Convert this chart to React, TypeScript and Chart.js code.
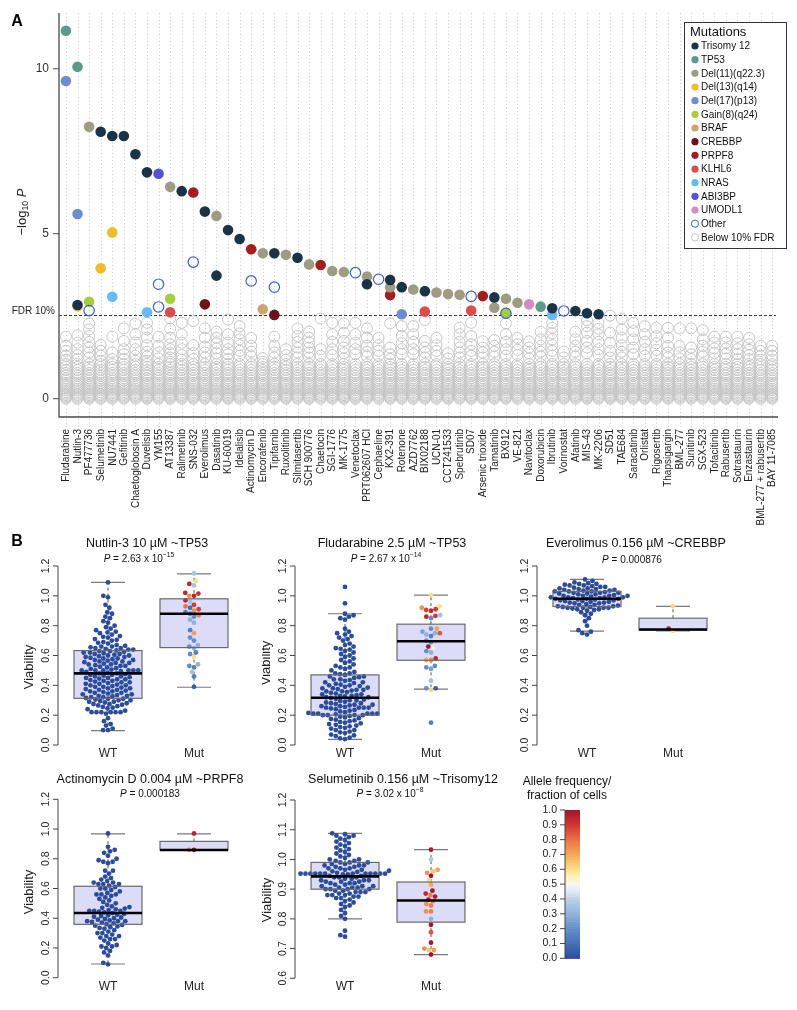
import React, { useEffect, useRef } from "react";
import { Chart, registerables } from "chart.js";
Chart.register(...registerables);

const FONT = '"Liberation Sans", Arial, Helvetica, sans-serif';

// ================= Panel A data =================
const DRUGS = [
  "Fludarabine", "Nutlin-3", "PF477736", "Selumetinib", "NU7441", "Gefitinib", "Chaetoglobosin A",
  "Duvelisib", "YM155", "AT13387", "Ralimetinib", "SNS-032", "Everolimus", "Dasatinib", "KU-60019",
  "Idelalisib", "Actinomycin D", "Encorafenib", "Tipifarnib", "Ruxolitinib", "Silmitasertib",
  "SCH 900776", "Chaetocin", "SGI-1776", "MK-1775", "Venetoclax", "PRT062607 HCl", "Cephaeline",
  "KX2-391", "Rotenone", "AZD7762", "BIX02188", "UCN-01", "CCT241533", "Spebrutinib", "SD07",
  "Arsenic trioxide", "Tamatinib", "BX912", "VE-821", "Navitoclax", "Doxorubicin", "Ibrutinib",
  "Vorinostat", "Afatinib", "MIS-43", "MK-2206", "SD51", "TAE684", "Saracatinib", "Orlistat",
  "Rigosertib", "Thapsigargin", "BML-277", "Sunitinib", "SGX-523", "Tofacitinib", "Rabusertib",
  "Sotrastaurin", "Enzastaurin", "BML-277 + rabusertib", "BAY 11-7085",
];
const Y_TICKS_A = [0, 5, 10];
const FDR_LEVEL = 2.54;

// below-FDR associations (grey rings): shared dense low band + per-drug upper values
const GRAY_BASE = [0.0, 0.03, 0.07, 0.11, 0.15, 0.2, 0.25, 0.3, 0.36, 0.42, 0.48, 0.55, 0.62, 0.7, 0.78, 0.87, 0.96, 1.05];
const GRAY_UPPER = [
  [1.88, 1.6, 1.45, 1.3, 1.18], [1.92, 1.7, 1.5, 1.32, 1.2], [2.28, 2.1, 1.9, 1.72, 1.55, 1.4, 1.25],
  [1.63, 1.45, 1.3, 1.15], [1.88, 1.4, 1.2], [2.13, 1.75, 1.5, 1.35, 1.2], [2.28, 1.95, 1.7, 1.5, 1.3, 1.15],
  [2.3, 2.1, 1.85, 1.62, 1.42, 1.28, 1.15], [1.88, 1.6, 1.4, 1.22], [2.43, 2.12, 1.85, 1.65, 1.5, 1.38, 1.25, 1.12],
  [2.3, 1.95, 1.7, 1.5, 1.32, 1.18], [2.35, 1.62, 1.38, 1.2], [2.13, 1.85, 1.58, 1.4, 1.25],
  [2.03, 1.85, 1.68, 1.52, 1.38, 1.22], [2.4, 1.95, 1.7, 1.5, 1.35, 1.2], [2.2, 1.98, 1.8, 1.62, 1.45, 1.3],
  [1.84, 1.6, 1.42, 1.28], [1.23, 1.12], [1.88, 1.6, 1.4, 1.25], [1.5, 1.32, 1.18],
  [2.13, 1.9, 1.72, 1.55, 1.4, 1.25], [2.03, 1.85, 1.7, 1.55, 1.4, 1.25], [2.43, 1.5, 1.3],
  [2.3, 1.95, 1.72, 1.5, 1.32], [2.28, 2.0, 1.75, 1.55, 1.38, 1.22], [2.3, 1.95, 1.7, 1.5, 1.35],
  [2.13, 1.85, 1.6, 1.42, 1.28], [1.84, 1.62, 1.45, 1.3], [2.28, 1.55, 1.35, 1.2], [2.2, 1.9, 1.68, 1.5, 1.35],
  [2.2, 1.95, 1.72, 1.5, 1.35], [2.38, 1.75, 1.55, 1.4, 1.25], [1.84, 1.62, 1.45, 1.3], [1.38, 1.22],
  [2.15, 1.95, 1.72, 1.55, 1.4, 1.25], [2.3, 1.9, 1.65, 1.45, 1.3], [1.74, 1.55, 1.4, 1.25],
  [1.78, 1.6, 1.42, 1.28], [2.28, 1.95, 1.72, 1.5, 1.3], [1.84, 1.65, 1.48, 1.32], [1.74, 1.55, 1.38, 1.22],
  [2.03, 1.8, 1.6, 1.42, 1.28], [2.3, 2.15, 1.98, 1.8, 1.62, 1.45, 1.3], [1.43, 1.25],
  [2.03, 1.8, 1.6, 1.42, 1.28], [2.38, 2.2, 2.0, 1.75, 1.55, 1.38], [2.3, 2.12, 1.95, 1.72, 1.5, 1.32],
  [2.52, 2.0, 1.7, 1.45, 1.25], [2.43, 2.1, 1.85, 1.62, 1.42, 1.25], [2.3, 2.05, 1.8, 1.55, 1.35],
  [2.2, 1.95, 1.72, 1.5, 1.3], [2.15, 1.9, 1.68, 1.48, 1.3], [2.15, 1.85, 1.6, 1.4, 1.25],
  [2.13, 1.6, 1.4, 1.22], [2.13, 1.55, 1.35, 1.2], [2.08, 1.8, 1.6, 1.42, 1.28], [1.88, 1.7, 1.52, 1.38, 1.22],
  [1.88, 1.7, 1.52, 1.36, 1.22], [1.88, 1.68, 1.5, 1.35, 1.2], [1.84, 1.65, 1.48, 1.32, 1.2],
  [1.6, 1.45, 1.3, 1.18], [1.6, 1.45, 1.3, 1.18],
];

// significant associations: [drug, -log10 P]
const SIG_TRISOMY12 = [
  ["Nutlin-3", 2.84], ["Selumetinib", 8.09], ["NU7441", 7.96], ["Gefitinib", 7.96], ["Chaetoglobosin A", 7.41],
  ["Duvelisib", 6.86], ["Ralimetinib", 6.29], ["Everolimus", 5.67], ["Dasatinib", 3.73], ["KU-60019", 5.11],
  ["Idelalisib", 4.84], ["Tipifarnib", 4.41], ["Silmitasertib", 4.27], ["PRT062607 HCl", 3.47], ["KX2-391", 3.6],
  ["Rotenone", 3.38], ["BIX02188", 3.26], ["Tamatinib", 3.07], ["Ibrutinib", 2.74], ["Afatinib", 2.66],
  ["MIS-43", 2.59], ["MK-2206", 2.56],
];
const SIG_TP53 = [["Fludarabine", 11.15], ["Nutlin-3", 10.06], ["Doxorubicin", 2.79]];
const SIG_DEL11 = [
  ["PF477736", 8.24], ["AT13387", 6.42], ["Dasatinib", 5.54], ["Encorafenib", 4.41], ["Ruxolitinib", 4.36],
  ["SCH 900776", 4.07], ["SGI-1776", 3.87], ["MK-1775", 3.84], ["PRT062607 HCl", 3.7], ["KX2-391", 3.38],
  ["AZD7762", 3.31], ["UCN-01", 3.22], ["CCT241533", 3.17], ["Spebrutinib", 3.15], ["Tamatinib", 2.76],
  ["BX912", 3.03], ["VE-821", 2.91],
];
const SIG_DEL13 = [["Nutlin-3", 2.8], ["Selumetinib", 3.95], ["NU7441", 5.04]];
const SIG_DEL17 = [["Fludarabine", 9.63], ["Nutlin-3", 5.6], ["Rotenone", 2.56]];
const SIG_GAIN8 = [["PF477736", 2.94], ["AT13387", 3.03], ["BX912", 2.59]];
const SIG_BRAF = [["Encorafenib", 2.71]];
const SIG_CREBBP = [["Everolimus", 2.86], ["Tipifarnib", 2.54]];
const SIG_PRPF8 = [["SNS-032", 6.25], ["Actinomycin D", 4.53], ["Chaetocin", 4.05], ["KX2-391", 3.14], ["Arsenic trioxide", 3.11]];
const SIG_KLHL6 = [["AT13387", 2.62], ["BIX02188", 2.64], ["SD07", 2.67]];
const SIG_NRAS = [["NU7441", 3.09], ["Duvelisib", 2.62], ["Ibrutinib", 2.54]];
const SIG_ABI3BP = [["YM155", 6.82]];
const SIG_UMODL1 = [["Navitoclax", 2.86]];
const SIG_OTHER = [
  ["PF477736", 2.67], ["YM155", 3.47], ["YM155", 2.78], ["SNS-032", 4.14], ["Actinomycin D", 3.57],
  ["Tipifarnib", 3.38], ["Venetoclax", 3.82], ["Cephaeline", 3.62], ["SD07", 3.1], ["BX912", 2.59], ["Vorinostat", 2.66],
];

const MUT_LABELS = ["Trisomy 12", "TP53", "Del(11)(q22.3)", "Del(13)(q14)", "Del(17)(p13)", "Gain(8)(q24)", "BRAF", "CREBBP", "PRPF8", "KLHL6", "NRAS", "ABI3BP", "UMODL1"];
const MUT_COLORS = ["#1b3346", "#5b9b8c", "#9e9d84", "#f1bb2b", "#6a8fcc", "#a6cd3b", "#cfa271", "#6b1419", "#a1201f", "#de4b4b", "#68b9f6", "#5a4fd8", "#d28ec0"];
const MUT_POINTS = [SIG_TRISOMY12, SIG_TP53, SIG_DEL11, SIG_DEL13, SIG_DEL17, SIG_GAIN8, SIG_BRAF, SIG_CREBBP, SIG_PRPF8, SIG_KLHL6, SIG_NRAS, SIG_ABI3BP, SIG_UMODL1];
// bottom -> top drawing order (indices into the lists above)
const DRAW_ORDER = [6, 9, 10, 12, 11, 5, 7, 8, 3, 4, 2, 1, 0];
const OTHER_COLOR = "#3d5fd6";
const GRAY_COLOR = "#c6c6c6";

// ================= Panel B data =================
const BOX_TICKS = [0, 0.2, 0.4, 0.6, 0.8, 1.0, 1.2];
const SELU_TICKS = [0.6, 0.7, 0.8, 0.9, 1.0, 1.1, 1.2];
const GROUPS = ["WT", "Mut"];

const NUTLIN_WT = [
  0.10, 0.10, 0.11, 0.13, 0.14, 0.16, 0.18, 0.21,
  0.22, 0.22, 0.22, 0.22, 0.22, 0.22, 0.23, 0.24, 0.245, 0.25, 0.255, 0.26, 0.265, 0.27, 0.275, 0.275, 0.28, 0.285, 0.29, 0.29, 0.295, 0.30, 0.30, 0.305, 0.31, 0.31, 0.315,
  0.32, 0.32, 0.325, 0.33, 0.33, 0.335, 0.34, 0.34, 0.345, 0.35, 0.35, 0.355, 0.36, 0.36, 0.365, 0.37, 0.37, 0.375, 0.38, 0.38, 0.385, 0.39, 0.39, 0.395, 0.40, 0.40, 0.405,
  0.41, 0.41, 0.415, 0.42, 0.42, 0.425, 0.43, 0.43, 0.435, 0.44, 0.44, 0.445, 0.45, 0.45, 0.455, 0.46, 0.46, 0.465, 0.47, 0.47, 0.475, 0.48, 0.48, 0.485, 0.49, 0.495,
  0.50, 0.50, 0.50, 0.50, 0.50, 0.50, 0.505, 0.51, 0.515, 0.52,
  0.525, 0.53, 0.53, 0.535, 0.54, 0.54, 0.545, 0.55, 0.55, 0.555, 0.56, 0.56, 0.565, 0.57, 0.57, 0.575, 0.58, 0.58, 0.585, 0.59, 0.59, 0.595, 0.60, 0.60, 0.605, 0.61, 0.61, 0.615, 0.62, 0.62, 0.625, 0.63, 0.63, 0.635,
  0.64, 0.64, 0.645, 0.65, 0.65, 0.655, 0.66, 0.66, 0.665, 0.67, 0.68, 0.685, 0.69, 0.70, 0.705, 0.71, 0.72, 0.725, 0.73,
  0.74, 0.75, 0.755, 0.76, 0.77, 0.78, 0.79, 0.80, 0.82, 0.83, 0.85, 0.86, 0.88, 0.89, 0.92, 0.94, 0.99, 1.00, 1.09,
];
const NUTLIN_MUT = [1.15, 1.10, 1.08, 1.07, 1.02, 1.015, 1.0, 1.0, 0.97, 0.96, 0.95, 0.94, 0.93, 0.92, 0.91, 0.9, 0.89, 0.88, 0.87, 0.86, 0.84, 0.82, 0.77, 0.75, 0.72, 0.7, 0.67, 0.66, 0.65, 0.62, 0.61, 0.59, 0.54, 0.53, 0.52, 0.49, 0.46, 0.39];
const NUTLIN_MUT_AF = [0.35, 0.6, 0.95, 0.35, 0.95, 0.92, 0.95, 0.75, 0.95, 0.35, 0.45, 0.9, 0.8, 0.1, 0.88, 0.75, 0.15, 0.2, 0.78, 0.2, 0.3, 0.3, 0.15, 0.72, 0.2, 0.2, 0.3, 0.2, 0.3, 0.15, 0.2, 0.6, 0.3, 0.2, 0.15, 0.35, 0.15, 0.05];
const NUTLIN_WT_BOX = [0.096, 0.313, 0.48, 0.633, 1.09];
const NUTLIN_MUT_BOX = [0.387, 0.653, 0.88, 0.98, 1.147];

const FLUD_WT = [
  0.04, 0.045, 0.05, 0.06, 0.065, 0.07, 0.08, 0.085, 0.09, 0.10, 0.10,
  0.11, 0.115, 0.12, 0.125, 0.13, 0.135, 0.14, 0.145, 0.15, 0.155, 0.16, 0.165, 0.17, 0.175, 0.18, 0.185, 0.19, 0.195, 0.20, 0.20, 0.20, 0.20, 0.205,
  0.21, 0.21, 0.21, 0.21, 0.21, 0.215, 0.22, 0.225, 0.23, 0.235, 0.24, 0.245, 0.25, 0.25, 0.25, 0.25, 0.255, 0.26, 0.26, 0.265, 0.27, 0.27, 0.275, 0.28, 0.28, 0.285, 0.29, 0.295, 0.30, 0.30, 0.305, 0.31, 0.315,
  0.32, 0.32, 0.325, 0.33, 0.33, 0.335, 0.34, 0.34, 0.345, 0.35, 0.355, 0.36, 0.36, 0.365, 0.37, 0.37, 0.375, 0.38, 0.38, 0.385, 0.39, 0.395, 0.40, 0.40, 0.405, 0.41, 0.415,
  0.42, 0.42, 0.43, 0.435, 0.44, 0.44, 0.45, 0.455, 0.46, 0.46, 0.47, 0.475, 0.48, 0.48, 0.49, 0.50, 0.51, 0.52, 0.52,
  0.53, 0.54, 0.55, 0.56, 0.57, 0.58, 0.59, 0.60, 0.61, 0.62, 0.63, 0.64, 0.645, 0.65, 0.66, 0.67, 0.68, 0.70, 0.71, 0.72,
  0.73, 0.74, 0.75, 0.76, 0.78, 0.84, 0.85, 0.86, 0.87, 0.88, 0.95, 1.06,
];
const FLUD_MUT = [1.005, 0.93, 0.92, 0.91, 0.9, 0.905, 0.87, 0.865, 0.86, 0.85, 0.78, 0.78, 0.76, 0.75, 0.75, 0.74, 0.73, 0.7, 0.69, 0.66, 0.65, 0.63, 0.62, 0.58, 0.57, 0.57, 0.53, 0.52, 0.51, 0.43, 0.38, 0.38, 0.37, 0.15];
const FLUD_MUT_AF = [0.6, 0.6, 0.75, 0.9, 0.95, 0.88, 0.35, 0.9, 0.95, 0.2, 0.2, 0.72, 0.25, 0.3, 0.85, 0.3, 0.15, 0.2, 0.2, 1.0, 0.55, 0.2, 0.3, 0.95, 0.75, 0.7, 0.2, 0.2, 0.25, 0.35, 0.2, 0.05, 0.62, 0.15];
const FLUD_WT_BOX = [0.038, 0.2, 0.317, 0.47, 0.88];
const FLUD_MUT_BOX = [0.374, 0.568, 0.696, 0.81, 1.005];

const EVERO_WT = [
  0.74, 0.75, 0.76, 0.77, 0.80, 0.83, 0.85, 0.87, 0.88, 0.89,
  0.90, 0.905, 0.91, 0.91, 0.915, 0.92, 0.92, 0.92, 0.92, 0.925, 0.925, 0.93, 0.93, 0.935, 0.94, 0.94, 0.945, 0.95, 0.95, 0.955, 0.955,
  0.96, 0.96, 0.965, 0.965, 0.97, 0.97, 0.975, 0.975, 0.98, 0.98, 0.98, 0.985, 0.985, 0.99, 0.99, 0.99, 0.99, 0.995, 1.0, 1.0, 1.0, 1.0, 1.005,
  1.01, 1.01, 1.015, 1.015, 1.02, 1.02, 1.02, 1.025, 1.03, 1.03, 1.03, 1.035, 1.035, 1.04, 1.04, 1.045, 1.045, 1.05, 1.05, 1.055,
  1.06, 1.06, 1.065, 1.07, 1.07, 1.075, 1.08, 1.08, 1.085, 1.09, 1.10, 1.11,
];
const EVERO_MUT = [0.93, 0.78, 0.765];
const EVERO_MUT_AF = [0.62, 0.98, 0.6];
const EVERO_WT_BOX = [0.763, 0.928, 0.98, 1.03, 1.11];
const EVERO_MUT_BOX = [0.765, 0.77, 0.774, 0.85, 0.93];

const ACTINO_WT = [
  0.09, 0.10, 0.15, 0.17, 0.18, 0.20, 0.21, 0.21, 0.22, 0.23, 0.25, 0.26, 0.26, 0.27, 0.28, 0.28, 0.29, 0.30, 0.30, 0.31,
  0.32, 0.33, 0.335, 0.34, 0.345, 0.35, 0.355, 0.36, 0.365, 0.37, 0.375, 0.38, 0.38, 0.38, 0.385, 0.39, 0.395,
  0.40, 0.405, 0.41, 0.415, 0.42, 0.425, 0.43, 0.435, 0.44, 0.445, 0.45, 0.45, 0.45, 0.455, 0.46, 0.465, 0.47, 0.475,
  0.48, 0.49, 0.50, 0.51, 0.52, 0.53, 0.54, 0.55, 0.56, 0.56, 0.56, 0.57, 0.58, 0.59, 0.60, 0.60, 0.61, 0.62, 0.63, 0.63,
  0.63, 0.64, 0.64, 0.65, 0.66, 0.67, 0.68, 0.70, 0.72, 0.72, 0.77, 0.78, 0.78, 0.79, 0.80, 0.82, 0.84, 0.85, 0.86, 0.88, 0.97,
];
const ACTINO_MUT = [0.97, 0.86, 0.86];
const ACTINO_MUT_AF = [0.95, 1.0, 0.75];
const ACTINO_WT_BOX = [0.092, 0.359, 0.435, 0.615, 0.968];
const ACTINO_MUT_BOX = [0.859, 0.859, 0.859, 0.917, 0.968];

const SELU_WT = [
  0.74, 0.745, 0.76, 0.80, 0.81, 0.82, 0.83, 0.84, 0.845, 0.85, 0.855, 0.86,
  0.865, 0.87, 0.87, 0.875, 0.875, 0.88, 0.88, 0.88, 0.885, 0.885, 0.89, 0.89, 0.89, 0.895, 0.895, 0.9, 0.9, 0.9, 0.9, 0.905, 0.905, 0.905, 0.91, 0.91, 0.91,
  0.915, 0.915, 0.92, 0.92, 0.92, 0.925, 0.925, 0.925, 0.93, 0.93, 0.93, 0.935, 0.935, 0.94, 0.94, 0.94, 0.945, 0.945, 0.95, 0.95,
  0.952, 0.952, 0.952, 0.952, 0.952, 0.952, 0.952, 0.952, 0.952, 0.952, 0.952, 0.952,
  0.955, 0.958, 0.96, 0.962, 0.965, 0.965, 0.97, 0.97, 0.97, 0.975, 0.975, 0.98, 0.98, 0.98, 0.985, 0.985, 0.99, 0.99, 0.99, 0.995, 0.995, 1.0, 1.0, 1.005, 1.01, 1.015, 1.02, 1.025, 1.03, 1.035,
  1.04, 1.045, 1.05, 1.055, 1.06, 1.065, 1.07, 1.075, 1.08, 1.08, 1.085, 1.088,
];
const SELU_MUT = [1.033, 1.0, 0.965, 0.96, 0.955, 0.945, 0.93, 0.915, 0.895, 0.885, 0.88, 0.875, 0.865, 0.86, 0.85, 0.845, 0.825, 0.825, 0.8, 0.78, 0.755, 0.72, 0.7, 0.695, 0.695, 0.68];
const SELU_MUT_AF = [0.98, 0.38, 0.72, 0.65, 0.75, 1.0, 0.6, 0.7, 1.0, 0.95, 0.78, 0.98, 1.0, 0.78, 0.75, 0.78, 0.78, 0.75, 0.3, 1.0, 0.85, 1.0, 0.75, 0.65, 0.72, 1.0];
const SELU_WT_BOX = [0.8, 0.9, 0.943, 0.99, 1.088];
const SELU_MUT_BOX = [0.68, 0.789, 0.862, 0.924, 1.033];

// allele frequency colour scale
const CBAR_TICKS = [0, 0.1, 0.2, 0.3, 0.4, 0.5, 0.6, 0.7, 0.8, 0.9, 1.0];
const CMAP_STOPS = [0, 0.1, 0.2, 0.3, 0.4, 0.45, 0.5, 0.55, 0.6, 0.7, 0.8, 0.9, 1.0];
const CMAP_HEX = ["#2c4c9e", "#4470b4", "#628fc7", "#8fb2d9", "#bcd0e8", "#dfe7f3", "#f6f6f2", "#fbf4bf", "#fbdf8a", "#f4ab5d", "#ec7346", "#d3372d", "#a31631"];
const WT_COLOR = "#2b4b9b";

// ================= helpers =================
function hexToRgb(h: string) {
  const n = parseInt(h.slice(1), 16);
  return [(n >> 16) & 255, (n >> 8) & 255, n & 255];
}
function cmap(v: number) {
  const t = Math.max(0, Math.min(1, v));
  let k = 0;
  while (k < CMAP_STOPS.length - 2 && t > CMAP_STOPS[k + 1]) k++;
  const f = (t - CMAP_STOPS[k]) / (CMAP_STOPS[k + 1] - CMAP_STOPS[k]);
  const a = hexToRgb(CMAP_HEX[k]);
  const b = hexToRgb(CMAP_HEX[k + 1]);
  const c = a.map((x, i) => Math.round(x + (b[i] - x) * f));
  return `rgb(${c[0]},${c[1]},${c[2]})`;
}

type Seg = [string, string];
function drawRich(ctx: CanvasRenderingContext2D, segs: Seg[], cx: number, cy: number, size: number, color = "#111") {
  const fontOf = (st: string) => (st === "i" ? "italic " : "") + (st === "s" || st === "b" ? size * 0.68 : size) + "px " + FONT;
  let w = 0;
  for (const [t, st] of segs) { ctx.font = fontOf(st); w += ctx.measureText(t).width; }
  let x = cx - w / 2;
  ctx.fillStyle = color;
  ctx.textAlign = "left";
  ctx.textBaseline = "middle";
  for (const [t, st] of segs) {
    ctx.font = fontOf(st);
    const dy = st === "s" ? -size * 0.38 : st === "b" ? size * 0.3 : 0;
    ctx.fillText(t, x, cy + dy);
    x += ctx.measureText(t).width;
  }
}

function swarm(py: number[], d: number): number[] {
  const idx = py.map((_, i) => i).sort((a, b) => py[b] - py[a]);
  const placed: { x: number; y: number }[] = [];
  const out = new Array(py.length).fill(0);
  for (const i of idx) {
    const y = py[i];
    const near = placed.filter((p) => Math.abs(p.y - y) < d);
    const cands = [0];
    for (const p of near) {
      const w = Math.sqrt(d * d - (p.y - y) * (p.y - y));
      cands.push(p.x - w, p.x + w);
    }
    cands.sort((a, b) => Math.abs(a) - Math.abs(b));
    let best = 0;
    for (const c of cands) {
      if (near.every((p) => Math.abs(p.x - c) >= Math.sqrt(d * d - (p.y - y) * (p.y - y)) - 1e-6)) { best = c; break; }
    }
    placed.push({ x: best, y });
    out[i] = best;
  }
  return out;
}

const baseOptions = (padding: any, xmin: number, xmax: number, ymin: number, ymax: number) => ({
  animation: false as const,
  responsive: false,
  maintainAspectRatio: false,
  events: [] as any[],
  layout: { padding },
  scales: {
    x: { type: "linear" as const, display: false, min: xmin, max: xmax },
    y: { type: "linear" as const, display: false, min: ymin, max: ymax },
  },
  plugins: { legend: { display: false }, tooltip: { enabled: false }, title: { display: false } },
});

// ================= Panel A =================
const PA = { w: 797, h: 530, left: 59, right: 778, top: 13, bottom: 417 };

function PanelA() {
  const ref = useRef<HTMLCanvasElement>(null);
  useEffect(() => {
    const datasets: any[] = [];
    const gray: any[] = [];
    DRUGS.forEach((_, i) => {
      for (const v of GRAY_BASE) gray.push({ x: i, y: v });
      for (const v of GRAY_UPPER[i]) gray.push({ x: i, y: v });
    });
    datasets.push({ data: gray, pointRadius: 5.5, pointBackgroundColor: "rgba(0,0,0,0)", pointBorderColor: GRAY_COLOR, pointBorderWidth: 1, clip: false });
    for (const k of DRAW_ORDER) {
      datasets.push({
        data: MUT_POINTS[k].map(([d, v]: any) => ({ x: DRUGS.indexOf(d), y: v })),
        pointRadius: 5.3, pointBackgroundColor: MUT_COLORS[k], pointBorderColor: MUT_COLORS[k], pointBorderWidth: 0, clip: false,
      });
    }
    datasets.push({
      data: SIG_OTHER.map(([d, v]: any) => ({ x: DRUGS.indexOf(d), y: v })),
      pointRadius: 5.2, pointBackgroundColor: "rgba(0,0,0,0)", pointBorderColor: OTHER_COLOR, pointBorderWidth: 1.2, clip: false,
    });
    datasets.forEach((d, i) => (d.order = datasets.length - i));

    const plugin = {
      id: "panelA",
      beforeDatasetsDraw(chart: any) {
        const { ctx, scales, chartArea: a } = chart;
        const x = scales.x, y = scales.y;
        ctx.save();
        ctx.strokeStyle = "#cccccc";
        ctx.lineWidth = 1;
        ctx.setLineDash([1, 2.5]);
        DRUGS.forEach((_, i) => {
          const px = Math.round(x.getPixelForValue(i)) + 0.5;
          ctx.beginPath(); ctx.moveTo(px, a.top); ctx.lineTo(px, a.bottom + 11); ctx.stroke();
        });
        const fy = Math.round(y.getPixelForValue(FDR_LEVEL)) + 0.5;
        ctx.strokeStyle = "#3a3a3a";
        ctx.setLineDash([3, 2]);
        ctx.beginPath(); ctx.moveTo(a.left, fy); ctx.lineTo(a.right - 2, fy); ctx.stroke();
        ctx.restore();
      },
      afterDatasetsDraw(chart: any) {
        const { ctx, scales, chartArea: a } = chart;
        const x = scales.x, y = scales.y;
        ctx.save();
        ctx.strokeStyle = "#4a4a4a";
        ctx.lineWidth = 1.3;
        ctx.beginPath(); ctx.moveTo(a.left, a.top); ctx.lineTo(a.left, a.bottom); ctx.lineTo(a.right, a.bottom); ctx.stroke();
        ctx.lineWidth = 1;
        ctx.fillStyle = "#333";
        ctx.font = "12px " + FONT;
        ctx.textAlign = "right";
        ctx.textBaseline = "middle";
        for (const t of Y_TICKS_A) {
          const py = y.getPixelForValue(t);
          ctx.beginPath(); ctx.moveTo(a.left - 6, py); ctx.lineTo(a.left, py); ctx.stroke();
          ctx.fillText(String(t), a.left - 10, py);
        }
        ctx.font = "10px " + FONT;
        ctx.fillStyle = "#222";
        ctx.fillText("FDR 10%", 55, y.getPixelForValue(FDR_LEVEL) - 4);
        ctx.save();
        ctx.translate(22, 212);
        ctx.rotate(-Math.PI / 2);
        drawRich(ctx, [["\u2212log", ""], ["10", "b"], [" ", ""], ["P", "i"]], 0, 0, 13, "#222");
        ctx.restore();
        ctx.font = "10px " + FONT;
        ctx.fillStyle = "#222";
        DRUGS.forEach((d, i) => {
          ctx.save();
          ctx.translate(x.getPixelForValue(i), a.bottom + 12);
          ctx.rotate(-Math.PI / 2);
          ctx.textAlign = "right";
          ctx.textBaseline = "middle";
          ctx.fillText(d, 0, 0.5);
          ctx.restore();
        });
        ctx.font = "bold 16px " + FONT;
        ctx.fillStyle = "#000";
        ctx.textAlign = "center";
        ctx.fillText("A", 17, 22);
        const L = { x: 684.5, y: 22.5, w: 102, h: 226 };
        ctx.fillStyle = "#fff";
        ctx.fillRect(L.x, L.y, L.w, L.h);
        ctx.strokeStyle = "#333";
        ctx.lineWidth = 1;
        ctx.strokeRect(L.x, L.y, L.w, L.h);
        ctx.fillStyle = "#111";
        ctx.textAlign = "left";
        ctx.font = "13px " + FONT;
        ctx.fillText("Mutations", 690, 32.5);
        ctx.font = "10px " + FONT;
        const entries: [string, string, boolean][] = MUT_LABELS.map((l, k) => [l, MUT_COLORS[k], true] as [string, string, boolean]);
        entries.push(["Other", OTHER_COLOR, false], ["Below 10% FDR", GRAY_COLOR, false]);
        entries.forEach(([lab, col, filled], k) => {
          const ey = 46 + k * 13.67;
          ctx.beginPath();
          ctx.arc(695, ey, 3.6, 0, Math.PI * 2);
          if (filled) { ctx.fillStyle = col; ctx.fill(); } else { ctx.strokeStyle = col; ctx.lineWidth = 1; ctx.stroke(); }
          ctx.fillStyle = "#111";
          ctx.fillText(lab, 701, ey + 0.5);
        });
        ctx.restore();
      },
    };

    const chart = new Chart(ref.current as HTMLCanvasElement, {
      type: "scatter",
      data: { datasets },
      options: baseOptions(
        { left: PA.left, right: PA.w - PA.right, top: PA.top, bottom: PA.h - PA.bottom },
        -0.6, 61.5, -0.555, 11.69
      ) as any,
      plugins: [plugin],
    });
    return () => chart.destroy();
  }, []);
  return <canvas ref={ref} width={PA.w} height={PA.h} style={{ position: "absolute", left: 0, top: 0, width: PA.w, height: PA.h }} />;
}

// ================= Panel B boxes =================
type BoxProps = {
  cv: { left: number; top: number; width: number; height: number };
  axisX: number; yTopPx: number; yBotPx: number; yMin: number; yMax: number; ticks: number[];
  title: string; titleX: number; titleY: number;
  pSegs: Seg[]; pX: number; pY: number;
  viaX: number; viaY: number; labY: number;
  wt: number[]; mut: number[]; mutAf: number[]; wtBox: number[]; mutBox: number[];
  letter?: string;
};

const PX_PER_GROUP = 86;
const WT_OFFSET = 50;
const AREA_W = 200;
const BOX_HALF = 34;

function BoxPanel(p: BoxProps) {
  const ref = useRef<HTMLCanvasElement>(null);
  useEffect(() => {
    const { cv } = p;
    const xmin = 1 - WT_OFFSET / PX_PER_GROUP;
    const xmax = xmin + AREA_W / PX_PER_GROUP;
    const padding = {
      left: p.axisX - cv.left,
      right: cv.left + cv.width - (p.axisX + AREA_W),
      top: p.yTopPx - cv.top,
      bottom: cv.top + cv.height - p.yBotPx,
    };
    const boxes = [p.wtBox, p.mutBox];
    const L = (X: number, Y: number) => [X - cv.left, Y - cv.top];

    const plugin = {
      id: "boxes",
      beforeDatasetsDraw(chart: any) {
        const { ctx, scales } = chart;
        const x = scales.x, y = scales.y;
        const hw = BOX_HALF * (x.getPixelForValue(2) - x.getPixelForValue(1)) / PX_PER_GROUP;
        ctx.save();
        boxes.forEach((b, g) => {
          const cx = x.getPixelForValue(g + 1);
          const [lo, q1, md, q3, hi] = b.map((v: number) => y.getPixelForValue(v));
          ctx.fillStyle = "#dcdcf8";
          ctx.fillRect(cx - hw, q3, hw * 2, q1 - q3);
          ctx.strokeStyle = "#555";
          ctx.lineWidth = 1;
          ctx.setLineDash([3, 3]);
          ctx.beginPath(); ctx.moveTo(cx, q3); ctx.lineTo(cx, hi); ctx.moveTo(cx, q1); ctx.lineTo(cx, lo); ctx.stroke();
          ctx.setLineDash([]);
          ctx.strokeStyle = "#7a7a7a";
          ctx.lineWidth = 1.2;
          ctx.beginPath(); ctx.moveTo(cx - hw / 2, hi); ctx.lineTo(cx + hw / 2, hi); ctx.moveTo(cx - hw / 2, lo); ctx.lineTo(cx + hw / 2, lo); ctx.stroke();
        });
        ctx.restore();
      },
      afterDatasetsDraw(chart: any) {
        const { ctx, scales } = chart;
        const x = scales.x, y = scales.y;
        const hw = BOX_HALF * (x.getPixelForValue(2) - x.getPixelForValue(1)) / PX_PER_GROUP;
        ctx.save();
        boxes.forEach((b, g) => {
          const cx = x.getPixelForValue(g + 1);
          const [, q1, md, q3] = b.map((v: number) => y.getPixelForValue(v));
          ctx.strokeStyle = "#6a6a6a";
          ctx.lineWidth = 1.2;
          ctx.strokeRect(cx - hw, q3, hw * 2, q1 - q3);
          ctx.strokeStyle = "#000";
          ctx.lineWidth = 2.6;
          ctx.beginPath(); ctx.moveTo(cx - hw, md); ctx.lineTo(cx + hw, md); ctx.stroke();
        });
        const ax = chart.chartArea.left;
        const y0 = y.getPixelForValue(p.ticks[0]);
        const y1 = y.getPixelForValue(p.ticks[p.ticks.length - 1]);
        ctx.strokeStyle = "#444";
        ctx.lineWidth = 1;
        ctx.beginPath(); ctx.moveTo(ax, y0); ctx.lineTo(ax, y1); ctx.stroke();
        ctx.fillStyle = "#222";
        ctx.font = "10.5px " + FONT;
        for (const t of p.ticks) {
          const py = y.getPixelForValue(t);
          ctx.beginPath(); ctx.moveTo(ax - 5, py); ctx.lineTo(ax, py); ctx.stroke();
          ctx.save();
          ctx.translate(ax - 12, py);
          ctx.rotate(-Math.PI / 2);
          ctx.textAlign = "center";
          ctx.textBaseline = "middle";
          ctx.fillText(t.toFixed(1), 0, 0);
          ctx.restore();
        }
        ctx.font = "12px " + FONT;
        ctx.textAlign = "center";
        ctx.textBaseline = "middle";
        GROUPS.forEach((gname, g) => ctx.fillText(gname, x.getPixelForValue(g + 1), p.labY - cv.top));
        ctx.save();
        const [vx, vy] = L(p.viaX, p.viaY);
        ctx.translate(vx, vy);
        ctx.rotate(-Math.PI / 2);
        ctx.font = "13px " + FONT;
        ctx.fillText("Viability", 0, 0);
        ctx.restore();
        ctx.font = "12.5px " + FONT;
        ctx.fillStyle = "#111";
        const [tx, ty] = L(p.titleX, p.titleY);
        ctx.fillText(p.title, tx, ty);
        const [qx, qy] = L(p.pX, p.pY);
        drawRich(ctx, p.pSegs, qx, qy, 10, "#111");
        if (p.letter) {
          ctx.font = "bold 16px " + FONT;
          ctx.fillStyle = "#000";
          ctx.textAlign = "center";
          ctx.textBaseline = "middle";
          const [lx, ly] = L(17, 542);
          ctx.fillText(p.letter, lx, ly);
        }
        ctx.restore();
      },
    };

    const chart = new Chart(ref.current as HTMLCanvasElement, {
      type: "scatter",
      data: {
        datasets: [
          { data: p.wt.map((v) => ({ x: 1, y: v })), pointRadius: 2.4, pointBackgroundColor: WT_COLOR, pointBorderWidth: 0, clip: false },
          { data: p.mut.map((v) => ({ x: 2, y: v })), pointRadius: 2.4, pointBackgroundColor: p.mutAf.map(cmap), pointBorderWidth: 0, clip: false },
        ],
      },
      options: baseOptions(padding, xmin, xmax, p.yMin, p.yMax) as any,
      plugins: [plugin],
    });
    const xs: any = chart.scales.x, ys: any = chart.scales.y;
    const pxu = xs.getPixelForValue(2) - xs.getPixelForValue(1);
    const D = 4.9;
    const offW = swarm(p.wt.map((v) => ys.getPixelForValue(v)), D);
    const offM = swarm(p.mut.map((v) => ys.getPixelForValue(v)), D);
    (chart.data.datasets[0] as any).data = p.wt.map((v, i) => ({ x: 1 + offW[i] / pxu, y: v }));
    (chart.data.datasets[1] as any).data = p.mut.map((v, i) => ({ x: 2 + offM[i] / pxu, y: v }));
    chart.update("none");
    return () => chart.destroy();
  }, []);
  const { cv } = p;
  return <canvas ref={ref} width={cv.width} height={cv.height} style={{ position: "absolute", left: cv.left, top: cv.top, width: cv.width, height: cv.height }} />;
}

// ================= colour bar =================
function ColorBar() {
  const ref = useRef<HTMLCanvasElement>(null);
  const cv = { left: 515, top: 770, width: 282, height: 240 };
  useEffect(() => {
    const plugin = {
      id: "cbar",
      afterDatasetsDraw(chart: any) {
        const { ctx, scales, chartArea: a } = chart;
        const y = scales.y;
        ctx.save();
        const N = 60;
        for (let k = 0; k < N; k++) {
          const v0 = k / N, v1 = (k + 1) / N;
          const p0 = y.getPixelForValue(v0), p1 = y.getPixelForValue(v1);
          ctx.fillStyle = cmap((v0 + v1) / 2);
          ctx.fillRect(a.left, p1, a.right - a.left, p0 - p1 + 0.6);
        }
        ctx.strokeStyle = "#444";
        ctx.lineWidth = 1;
        ctx.beginPath(); ctx.moveTo(a.left, y.getPixelForValue(0)); ctx.lineTo(a.left, y.getPixelForValue(1)); ctx.stroke();
        ctx.fillStyle = "#222";
        ctx.font = "10.5px " + FONT;
        ctx.textAlign = "right";
        ctx.textBaseline = "middle";
        for (const t of CBAR_TICKS) {
          const py = y.getPixelForValue(t);
          ctx.beginPath(); ctx.moveTo(a.left - 5, py); ctx.lineTo(a.left, py); ctx.stroke();
          ctx.fillText(t.toFixed(1), a.left - 8, py);
        }
        ctx.font = "12px " + FONT;
        ctx.textAlign = "center";
        ctx.fillStyle = "#111";
        ctx.fillText("Allele frequency/", 567 - cv.left, 782 - cv.top);
        ctx.fillText("fraction of cells", 567 - cv.left, 796 - cv.top);
        ctx.restore();
      },
    };
    const chart = new Chart(ref.current as HTMLCanvasElement, {
      type: "scatter",
      data: { datasets: [{ data: [] }] },
      options: baseOptions(
        { left: 565 - cv.left, right: cv.left + cv.width - 580, top: 810 - cv.top, bottom: cv.top + cv.height - 958.3 },
        0, 1, 0, 1
      ) as any,
      plugins: [plugin],
    });
    return () => chart.destroy();
  }, []);
  return <canvas ref={ref} width={cv.width} height={cv.height} style={{ position: "absolute", left: cv.left, top: cv.top, width: cv.width, height: cv.height }} />;
}

const MINUS = "\u2212";

export default function App() {
  return (
    <div style={{ position: "absolute", left: 0, top: 0, width: 797, height: 1010, background: "#fff", overflow: "hidden" }}>
      <PanelA />
      <BoxPanel
        cv={{ left: 0, top: 530, width: 262, height: 240 }} axisX={58} yTopPx={566} yBotPx={745} yMin={0} yMax={1.2} ticks={BOX_TICKS}
        title={"Nutlin-3 10 \u00b5M ~TP53"} titleX={147} titleY={544}
        pSegs={[["P", "i"], [" = 2.63 x 10", ""], [MINUS + "15", "s"]]} pX={139} pY={559}
        viaX={29} viaY={667} labY={754}
        wt={NUTLIN_WT} mut={NUTLIN_MUT} mutAf={NUTLIN_MUT_AF} wtBox={NUTLIN_WT_BOX} mutBox={NUTLIN_MUT_BOX} letter="B"
      />
      <BoxPanel
        cv={{ left: 262, top: 530, width: 253, height: 240 }} axisX={295} yTopPx={566} yBotPx={745} yMin={0} yMax={1.2} ticks={BOX_TICKS}
        title={"Fludarabine 2.5 \u00b5M ~TP53"} titleX={392} titleY={544}
        pSegs={[["P", "i"], [" = 2.67 x 10", ""], [MINUS + "14", "s"]]} pX={386} pY={559}
        viaX={266} viaY={663} labY={754}
        wt={FLUD_WT} mut={FLUD_MUT} mutAf={FLUD_MUT_AF} wtBox={FLUD_WT_BOX} mutBox={FLUD_MUT_BOX}
      />
      <BoxPanel
        cv={{ left: 515, top: 530, width: 282, height: 240 }} axisX={537} yTopPx={566} yBotPx={745} yMin={0} yMax={1.2} ticks={BOX_TICKS}
        title={"Everolimus 0.156 \u00b5M ~CREBBP"} titleX={636} titleY={544}
        pSegs={[["P", "i"], [" = 0.000876", ""]]} pX={632} pY={560}
        viaX={508} viaY={660} labY={754}
        wt={EVERO_WT} mut={EVERO_MUT} mutAf={EVERO_MUT_AF} wtBox={EVERO_WT_BOX} mutBox={EVERO_MUT_BOX}
      />
      <BoxPanel
        cv={{ left: 0, top: 770, width: 262, height: 240 }} axisX={58} yTopPx={799.3} yBotPx={977.7} yMin={0} yMax={1.2} ticks={BOX_TICKS}
        title={"Actinomycin D 0.004 \u00b5M ~PRPF8"} titleX={150} titleY={780}
        pSegs={[["P", "i"], [" = 0.000183", ""]]} pX={150} pY={794}
        viaX={29} viaY={892} labY={987}
        wt={ACTINO_WT} mut={ACTINO_MUT} mutAf={ACTINO_MUT_AF} wtBox={ACTINO_WT_BOX} mutBox={ACTINO_MUT_BOX}
      />
      <BoxPanel
        cv={{ left: 262, top: 770, width: 253, height: 240 }} axisX={295} yTopPx={800} yBotPx={978.3} yMin={0.6} yMax={1.2} ticks={SELU_TICKS}
        title={"Selumetinib 0.156 \u00b5M ~Trisomy12"} titleX={403} titleY={780}
        pSegs={[["P", "i"], [" = 3.02 x 10", ""], [MINUS + "8", "s"]]} pX={390} pY={794}
        viaX={267} viaY={900} labY={987}
        wt={SELU_WT} mut={SELU_MUT} mutAf={SELU_MUT_AF} wtBox={SELU_WT_BOX} mutBox={SELU_MUT_BOX}
      />
      <ColorBar />
    </div>
  );
}
